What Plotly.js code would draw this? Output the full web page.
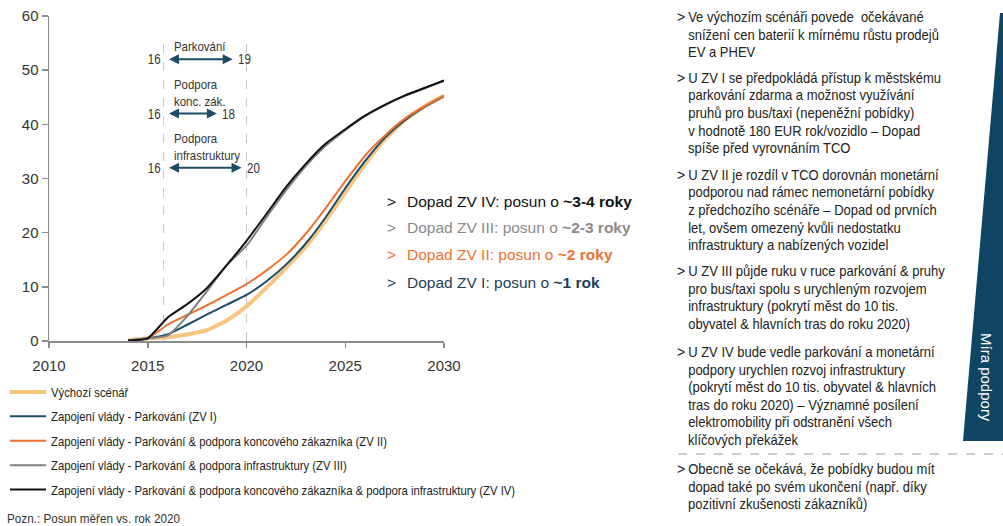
<!DOCTYPE html>
<html>
<head>
<meta charset="utf-8">
<script src="https://cdn.plot.ly/plotly-3.0.1.min.js"></script>
<style>html,body{margin:0;padding:0;background:#fff;}#chart{width:1003px;height:526px;}</style>
</head>
<body>
<div id="chart"></div>
<script>
// ---- data ----
const years = [2014, 2015, 2016, 2017, 2018, 2019, 2020, 2021, 2022, 2023, 2024, 2025, 2026, 2027, 2028, 2029, 2030];
const baseline = [0.1, 0.5, 0.7, 1.2, 2.0, 3.8, 6.4, 9.8, 13.5, 17.4, 22.2, 27.4, 32.6, 37.2, 40.7, 43.3, 45.3];
const zv1 = [0.1, 0.5, 1.2, 3.0, 4.9, 6.7, 8.5, 11.0, 14.1, 18.0, 22.8, 28.2, 33.2, 37.5, 40.7, 43.2, 45.2];
const zv2 = [0.1, 0.5, 3.0, 4.8, 6.6, 8.5, 10.5, 13.0, 15.9, 19.8, 24.5, 29.5, 34.2, 37.9, 41.0, 43.3, 45.3];
const zv3 = [0.1, 0.5, 1.0, 4.6, 9.2, 14.0, 17.6, 22.8, 27.8, 32.3, 36.0, 38.9, 41.5, 43.5, 45.2, 46.6, 48.0];
const zv4 = [0.1, 0.5, 4.3, 6.8, 9.8, 14.0, 18.5, 23.4, 28.4, 32.7, 36.4, 39.1, 41.6, 43.6, 45.3, 46.7, 48.1];
const seriesNames = [
  "Výchozí scénář",
  "Zapojení vlády - Parkování (ZV I)",
  "Zapojení vlády - Parkování & podpora koncového zákazníka (ZV II)",
  "Zapojení vlády - Parkování & podpora infrastruktury (ZV III)",
  "Zapojení vlády - Parkování & podpora koncového zákazníka & podpora infrastruktury (ZV IV)"
];
const xTicks = [2010, 2015, 2020, 2025, 2030];
const yTicks = [0, 10, 20, 30, 40, 50, 60];
const guideYears = [2015.8, 2020];
const guideTop = 55;
const arrowLabels = ["Parkování", "Podpora<br>konc. zák.", "Podpora<br>infrastruktury"];
const arrowStartLabels = ["16", "16", "16"];
const arrowEndLabels = ["19", "18", "20"];
const arrowFrom = [2016, 2016, 2016];
const arrowTo = [2019.3, 2018.5, 2019.75];
const arrowLevel = [52, 42, 32];
const impactTexts = [
  ["Dopad ZV IV: posun o ", "~3-4 roky"],
  ["Dopad ZV III: posun o ", "~2-3 roky"],
  ["Dopad ZV II: posun o ", "~2 roky"],
  ["Dopad ZV I: posun o ", "~1 rok"]
];
const notes = [
  ["Ve výchozím scénáři povede  očekávané", "snížení cen baterií k mírnému růstu prodejů", "EV a PHEV"],
  ["U ZV I se předpokládá přístup k městskému", "parkování zdarma a možnost využívání", "pruhů pro bus/taxi (nepeněžní pobídky)", "v hodnotě 180 EUR rok/vozidlo – Dopad", "spíše před vyrovnáním TCO"],
  ["U ZV II je rozdíl v TCO dorovnán monetární", "podporou nad rámec nemonetární pobídky", "z předchozího scénáře – Dopad od prvních", "let, ovšem omezený kvůli nedostatku", "infrastruktury a nabízených vozidel"],
  ["U ZV III půjde ruku v ruce parkování & pruhy", "pro bus/taxi spolu s urychleným rozvojem", "infrastruktury (pokrytí měst do 10 tis.", "obyvatel & hlavních tras do roku 2020)"],
  ["U ZV IV bude vedle parkování a monetární", "podpory urychlen rozvoj infrastruktury", "(pokrytí měst do 10 tis. obyvatel & hlavních", "tras do roku 2020) – Významné posílení", "elektromobility při odstranění všech", "klíčových překážek"],
  ["Obecně se očekává, že pobídky budou mít", "dopad také po svém ukončení (např. díky", "pozitivní zkušenosti zákazníků)"]
];
const noteText = "Pozn.: Posun měřen vs. rok 2020";
const sideLabel = "Míra podpory";

// ---- styling ----
const NARROW = "'Arial Narrow', 'Liberation Sans', Arial, sans-serif";
const SANS = "'Liberation Sans', Arial, sans-serif";
const NAVY = "#1c4d68";
const colors = ["#f8c47f", NAVY, "#ef7030", "#808080", "#111111"];
const widths = [4, 2, 2, 2, 2];

const L = 49, R = 444, T = 16, B = 341;
const W = R - L, H = B - T;
const px = v => (v - L) / W;
const py = v => (B - v) / H;

const allSeries = [baseline, zv1, zv2, zv3, zv4];
const traces = allSeries.map((ys, i) => ({
  type: "scatter", mode: "lines", x: years, y: ys, name: seriesNames[i],
  legendgroup: "g" + i,
  line: {color: colors[i], width: widths[i], shape: "spline", smoothing: 0.5},
  hoverinfo: "skip"
}));

const shapes = guideYears.map(g => ({
  type: "line", xref: "x", yref: "y", x0: g, x1: g, y0: 0, y1: guideTop,
  line: {color: "#c8c8c8", width: 1, dash: "dash"}, layer: "below"
}));
shapes.push({
  type: "path", xref: "paper", yref: "paper",
  path: `M ${px(1000)} ${py(13)} L ${px(963)} ${py(441)} L ${px(1004)} ${py(441)} L ${px(1004)} ${py(13)} Z`,
  fillcolor: "#0f4562", line: {width: 0}
});
shapes.push({
  type: "line", xref: "paper", yref: "paper", x0: px(678), x1: px(1003), y0: py(454), y1: py(454),
  line: {color: "#9a9a9a", width: 1, dash: "dash"}
});

const squeeze = {};
const annotations = [];
function addAnn(a, sq) {
  if (sq) squeeze[annotations.length] = sq;
  annotations.push(a);
}
const LABF = {family: NARROW, size: 14, color: "#333"};
arrowLabels.forEach((lab, i) => {
  addAnn({
    x: arrowTo[i], y: arrowLevel[i], ax: arrowFrom[i], ay: arrowLevel[i],
    xref: "x", yref: "y", axref: "x", ayref: "y",
    showarrow: true, arrowhead: 2, startarrowhead: 2, arrowside: "end+start",
    arrowsize: 1, arrowwidth: 2, arrowcolor: NAVY, text: ""
  });
  addAnn({
    x: arrowFrom[i], y: arrowLevel[i], xref: "x", yref: "y", text: arrowStartLabels[i],
    showarrow: false, xanchor: "right", xshift: -5, font: LABF
  }, [0.82, "100%"]);
  addAnn({
    x: arrowTo[i], y: arrowLevel[i], xref: "x", yref: "y", text: arrowEndLabels[i],
    showarrow: false, xanchor: "left", xshift: 3, font: LABF
  }, [0.82, "0%"]);
  addAnn({
    x: arrowFrom[i], y: arrowLevel[i], xref: "x", yref: "y", text: lab, align: "left",
    showarrow: false, xanchor: "left", yanchor: "bottom", xshift: 4, yshift: 3,
    font: {family: NARROW, size: 13, color: "#333"}
  }, [0.88, "0%"]);
});

const impactColors = ["#111111", "#8a8a8a", "#ef7030", "#1f3f57"];
const impactY = [201, 228, 255, 282];
impactTexts.forEach((t, i) => {
  addAnn({
    xref: "paper", yref: "paper", x: px(385), y: py(impactY[i]), xanchor: "left", yanchor: "middle",
    showarrow: false, text: ">", font: {family: SANS, size: 15.5, color: impactColors[i]}
  });
  addAnn({
    xref: "paper", yref: "paper", x: px(405), y: py(impactY[i]), xanchor: "left", yanchor: "middle",
    showarrow: false, text: t[0] + "<b>" + t[1] + "</b>",
    font: {family: SANS, size: 15.5, color: impactColors[i]}
  });
});

const noteStarts = [17, 78, 175, 271, 352, 469];
const LS = 17.5;
const NOTEF = {family: NARROW, size: 14, color: "#222"};
notes.forEach((blk, b) => {
  addAnn({
    xref: "paper", yref: "paper", x: px(675), y: py(noteStarts[b]), xanchor: "left", yanchor: "middle",
    showarrow: false, text: ">", font: NOTEF
  });
  blk.forEach((line, k) => {
    addAnn({
      xref: "paper", yref: "paper", x: px(686), y: py(noteStarts[b] + k * LS), xanchor: "left", yanchor: "middle",
      showarrow: false, text: line, font: NOTEF
    }, [0.93, "0%"]);
  });
});

addAnn({
  xref: "paper", yref: "paper", x: px(987), y: py(377), xanchor: "center", yanchor: "middle",
  showarrow: false, text: sideLabel, textangle: 90, font: {family: SANS, size: 15, color: "#ffffff"}
});
addAnn({
  xref: "paper", yref: "paper", x: px(5), y: py(518), xanchor: "left", yanchor: "middle",
  showarrow: false, text: noteText, font: {family: NARROW, size: 13, color: "#333"}
}, [0.9, "0%"]);

const layout = {
  width: 1003, height: 526, autosize: false,
  margin: {l: L, r: 1003 - R, t: T, b: 526 - B, pad: 0, autoexpand: false},
  paper_bgcolor: "#ffffff", plot_bgcolor: "#ffffff",
  showlegend: true,
  legend: {
    x: px(5), y: py(377), xanchor: "left", yanchor: "top",
    font: {family: NARROW, size: 13, color: "#222"}, itemwidth: 36,
    tracegroupgap: 4.5, bgcolor: "rgba(0,0,0,0)", traceorder: "grouped"
  },
  xaxis: {
    range: [2010, 2030], tickvals: xTicks, ticktext: xTicks.map(String), automargin: false,
    showgrid: false, zeroline: false, showline: true, linecolor: "#8c8c8c", linewidth: 1.5,
    ticks: "outside", ticklen: 5, tickcolor: "#8c8c8c", tickwidth: 1.5, ticklabelstandoff: 5,
    tickfont: {family: SANS, size: 15, color: "#333"}, fixedrange: true
  },
  yaxis: {
    range: [0, 60], tickvals: yTicks, ticktext: yTicks.map(String), automargin: false,
    showgrid: false, zeroline: false, showline: true, linecolor: "#8c8c8c", linewidth: 1.5,
    ticks: "outside", ticklen: 6, tickcolor: "#8c8c8c", tickwidth: 1.5,
    tickfont: {family: SANS, size: 15, color: "#333"}, fixedrange: true
  },
  shapes: shapes,
  annotations: annotations
};

function applySqueeze(el, s, origin) {
  el.style.transformBox = "fill-box";
  el.style.transformOrigin = origin + " 50%";
  el.style.transform = "scaleX(" + s + ")";
}

Plotly.newPlot("chart", traces, layout, {displayModeBar: false, staticPlot: true}).then(gd => {
  gd.querySelectorAll("g.annotation").forEach(g => {
    const idx = +g.getAttribute("data-index");
    const sq = squeeze[idx];
    if (!sq) return;
    const t = g.querySelector("text.annotation-text");
    if (t) applySqueeze(t, sq[0], sq[1]);
  });
  gd.querySelectorAll("text.legendtext").forEach(t => applySqueeze(t, 0.87, "0%"));
});
</script>
</body>
</html>
